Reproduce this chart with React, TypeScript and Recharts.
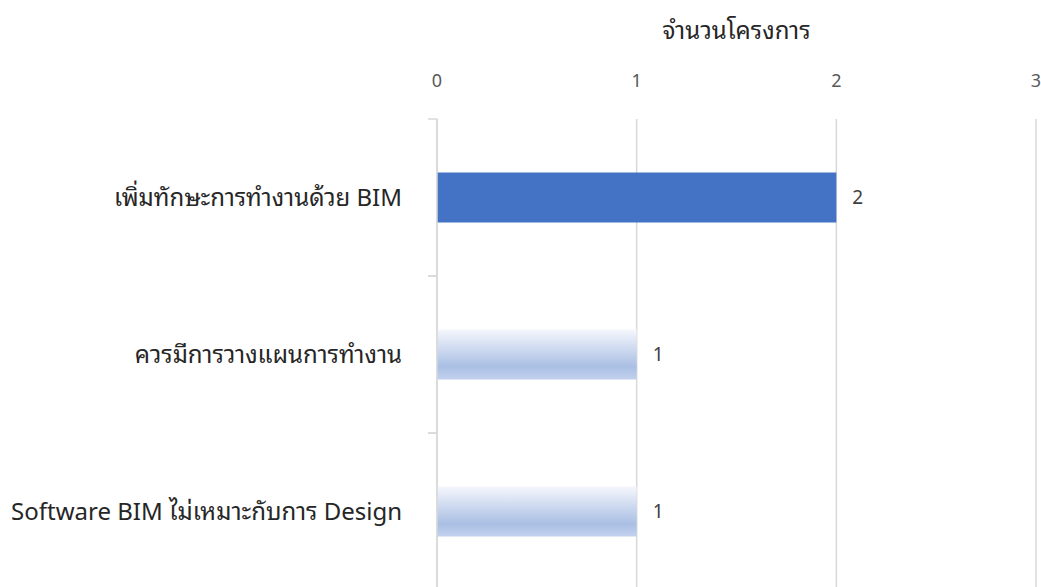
import React from 'react';
import {
  BarChart,
  Bar,
  XAxis,
  YAxis,
  CartesianGrid,
  Cell,
  LabelList,
} from 'recharts';

const categories = [
  'เพิ่มทักษะการทำงานด้วย BIM',
  'ควรมีการวางแผนการทำงาน',
  'Software BIM ไม่เหมาะกับการ Design',
];
const projectCounts = [2, 1, 1];
const xTicks = [0, 1, 2, 3];
const axisTitle = 'จำนวนโครงการ';

const data = categories.map((name, i) => ({ name, value: projectCounts[i] }));

const FONT = "'Noto Sans Thai Looped', 'Noto Sans', 'Noto Sans Thai', 'Open Sans', sans-serif";
const GRID = '#d9d9d9';
const LABEL_GAP = 35;
const EDGE_TICK = 9;

// category label plus the short tick marks at both edges of its band
function CategoryTick(props: any) {
  const { x, y, payload } = props;
  const axisX = x + LABEL_GAP;
  const half = payload.offset || 0;
  return (
    <g>
      <line x1={axisX - EDGE_TICK} x2={axisX} y1={y - half} y2={y - half} stroke={GRID} strokeWidth={1.5} />
      <line x1={axisX - EDGE_TICK} x2={axisX} y1={y + half} y2={y + half} stroke={GRID} strokeWidth={1.5} />
      <text x={x} y={y} dy="0.35em" textAnchor="end" fill="#262626" fontSize={24}>
        {payload.value}
      </text>
    </g>
  );
}

export default function App() {
  return (
    <div style={{ position: 'absolute', left: 0, top: 0, width: 1041, height: 587, overflow: 'hidden', background: '#fff' }}>
      <BarChart
        width={1041}
        height={595}
        data={data}
        layout="vertical"
        margin={{ top: 45, right: 5, bottom: 5, left: 0 }}
        barCategoryGap="34%"
        style={{ fontFamily: FONT }}
      >
        <defs>
          <linearGradient id="softBlue" x1="0" y1="0" x2="0" y2="1">
            <stop offset="0%" stopColor="#f5f7fc" />
            <stop offset="75%" stopColor="#aabfe4" />
            <stop offset="100%" stopColor="#c2d1ee" />
          </linearGradient>
        </defs>
        <CartesianGrid horizontal={false} stroke={GRID} strokeWidth={1.5} />
        <XAxis
          type="number"
          orientation="top"
          domain={[0, 3]}
          ticks={xTicks}
          height={74}
          axisLine={false}
          tickLine={false}
          tickSize={0}
          tickMargin={32}
          tick={{ fill: '#595959', fontSize: 18 }}
          label={{ value: axisTitle, position: 'top', offset: 6, fill: '#262626', fontSize: 24 }}
        />
        <YAxis
          type="category"
          dataKey="name"
          width={437}
          axisLine={{ stroke: GRID, strokeWidth: 1.5 }}
          tickLine={false}
          tickSize={0}
          tickMargin={LABEL_GAP}
          tick={<CategoryTick />}
        />
        <Bar dataKey="value" isAnimationActive={false}>
          {data.map((d, i) => (
            <Cell key={d.name} fill={i === 0 ? '#4472c4' : 'url(#softBlue)'} />
          ))}
          <LabelList dataKey="value" position="right" offset={16} fill="#404040" fontSize={19} />
        </Bar>
      </BarChart>
    </div>
  );
}
